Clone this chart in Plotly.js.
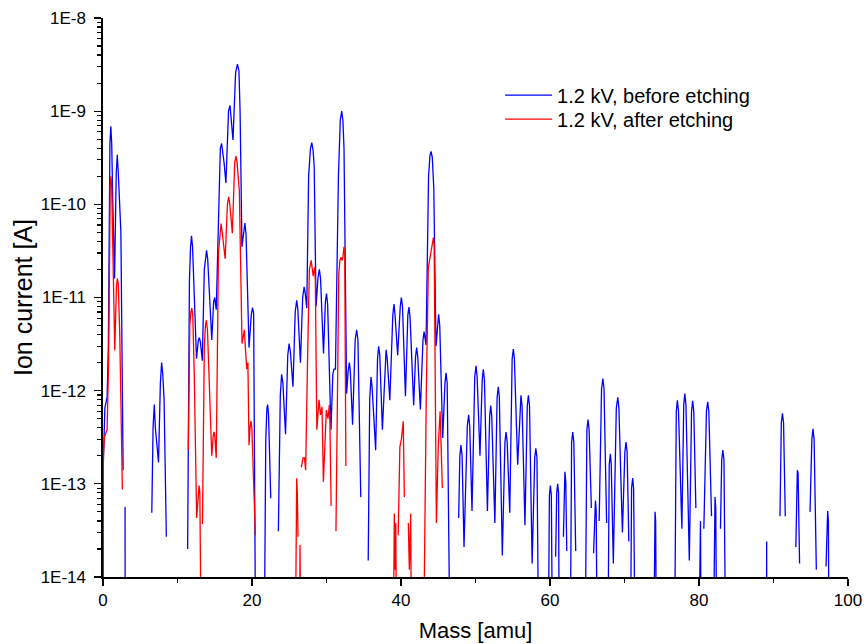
<!DOCTYPE html>
<html>
<head>
<meta charset="utf-8">
<script src="https://cdn.plot.ly/plotly-3.0.1.min.js"></script>
<style>
  html, body { margin: 0; padding: 0; background: #ffffff; }
  #chart { width: 865px; height: 644px; }
</style>
</head>
<body>
<div id="chart"></div>
<script>
// ---- data: [mass (amu), ion current (A)] ----
// [null, null] marks a break in the recorded line; 1e-15 lies below the axis floor.
const bluePoints = [
  [0.00,1e-15],[0.03,1.5e-13],[0.25,6.5e-13],[0.55,8.5e-13],[0.72,3e-12],[0.85,1e-10],[0.93,4.5e-10],[1.05,6.9e-10],[1.17,4.5e-10],[1.30,1.2e-10],[1.55,1.6e-11],[1.78,2.2e-10],[1.92,3.4e-10],[2.05,2.2e-10],[2.20,1.2e-10],[2.40,5e-11],[2.70,1.4e-13],[null,null],
  [2.93,5.6e-14],[2.96,5.6e-14],[2.98,1e-15],[null,null],
  [6.55,4.9e-14],[6.72,4e-13],[6.88,7.1e-13],[7.03,4e-13],[7.45,1.7e-13],[7.70,1.2e-12],[7.87,2e-12],[8.02,1.5e-12],[8.20,8e-13],[8.50,2.7e-14],[null,null],
  [11.36,2e-14],[11.60,1.5e-11],[11.75,3.5e-11],[11.88,4.6e-11],[12.02,3.5e-11],[12.20,1.2e-11],[12.55,2.2e-12],[12.80,3.5e-12],[12.93,3.7e-12],[13.08,3.3e-12],[13.33,2.1e-12],[13.60,2e-11],[13.75,2.8e-11],[13.90,3.2e-11],[14.05,2.6e-11],[14.25,1.2e-11],[14.60,3.5e-12],[14.85,9e-12],[14.99,1e-11],[15.20,7.4e-12],[15.55,1.5e-10],[15.75,4e-10],[15.92,4.5e-10],[16.10,3.5e-10],[16.25,2.8e-10],[16.50,1.7e-10],[16.85,1e-9],[17.05,1.15e-9],[17.22,8.5e-10],[17.45,4.9e-10],[17.80,2.6e-9],[18.05,3.2e-9],[18.25,2.7e-9],[18.40,1e-9],[18.65,3.5e-11],[18.90,5.5e-11],[19.05,6.3e-11],[19.20,4.8e-11],[19.60,2.9e-12],[19.90,6.5e-12],[20.07,7.8e-12],[20.22,6.8e-12],[20.50,1e-15],[null,null],
  [21.62,1e-15],[21.85,3e-13],[22.00,6.5e-13],[22.10,7.1e-13],[22.22,5.5e-13],[22.52,7e-14],[null,null],
  [23.54,3.1e-14],[23.80,9e-13],[23.98,1.5e-12],[24.15,1.2e-12],[24.50,3.4e-13],[24.80,2.4e-12],[24.98,3.2e-12],[25.15,2.6e-12],[25.50,1.1e-12],[25.80,7e-12],[26.00,9.3e-12],[26.15,7.5e-12],[26.50,2e-12],[26.80,1e-11],[27.00,1.3e-11],[27.15,1.1e-11],[27.35,7.7e-12],[27.60,2e-10],[27.85,4e-10],[28.02,4.6e-10],[28.20,3.8e-10],[28.35,2.5e-10],[28.60,8e-12],[28.85,1.6e-11],[29.04,2e-11],[29.20,1.6e-11],[29.60,2.5e-12],[29.85,9e-12],[30.00,1.1e-11],[30.15,8.5e-12],[30.60,3.8e-13],[30.85,1.5e-12],[31.00,1.7e-12],[31.20,1.7e-12],[31.60,2e-10],[31.85,8e-10],[32.04,1e-9],[32.20,8e-10],[32.35,4e-10],[32.70,9.3e-13],[32.90,1.6e-12],[33.07,2e-12],[33.20,1.6e-12],[33.50,4.3e-13],[33.85,3.5e-12],[34.05,4.5e-12],[34.22,3.5e-12],[34.60,7.2e-14],[null,null],
  [35.60,1.5e-14],[35.80,8e-13],[35.97,1.4e-12],[36.12,1.1e-12],[36.60,2.3e-13],[36.85,2.2e-12],[37.00,3e-12],[37.15,2.4e-12],[37.50,3.8e-13],[37.85,2e-12],[38.00,2.75e-12],[38.15,2.2e-12],[38.50,7.9e-13],[38.90,6.5e-12],[39.06,8.5e-12],[39.20,6.5e-12],[39.55,2.4e-12],[39.90,8e-12],[40.05,1e-11],[40.20,8e-12],[40.60,8.7e-13],[40.92,6.5e-12],[41.07,7.9e-12],[41.22,6e-12],[41.70,7e-13],[41.95,2.3e-12],[42.10,2.9e-12],[42.25,2.3e-12],[42.60,6.3e-13],[42.95,3.5e-12],[43.10,4.3e-12],[43.36,3.1e-12],[43.70,2e-10],[43.88,3.3e-10],[44.03,3.7e-10],[44.20,3.2e-10],[44.40,1.5e-10],[44.70,3e-12],[44.90,5.5e-12],[45.05,6.6e-12],[45.20,5e-12],[45.60,3.1e-13],[45.90,1.2e-12],[46.04,1.55e-12],[46.20,1.2e-12],[46.60,1e-15],[null,null],
  [47.74,4.3e-14],[47.90,2e-13],[48.05,2.6e-13],[48.20,2e-13],[48.46,2.1e-14],[48.90,4.2e-13],[49.08,5.5e-13],[49.22,4.2e-13],[49.53,5.1e-14],[49.90,1.4e-12],[50.07,1.85e-12],[50.22,1.4e-12],[50.60,2e-13],[50.90,1.3e-12],[51.05,1.7e-12],[51.20,1.3e-12],[51.60,5.1e-14],[51.90,5.3e-13],[52.04,6.9e-13],[52.18,5.3e-13],[52.60,3.8e-14],[52.90,8.5e-13],[53.06,1.1e-12],[53.20,8.5e-13],[53.60,1.7e-14],[53.95,2.8e-13],[54.10,3.6e-13],[54.25,2.8e-13],[54.60,4.9e-14],[54.92,2.2e-12],[55.08,2.8e-12],[55.22,2.2e-12],[55.66,1.6e-13],[55.95,6.9e-13],[56.10,8.9e-13],[56.25,6.9e-13],[56.64,3.6e-14],[56.95,6.9e-13],[57.10,8.9e-13],[57.25,6.9e-13],[57.60,1.4e-14],[57.95,1.9e-13],[58.10,2.4e-13],[58.25,1.9e-13],[58.50,1e-15],[null,null],
  [59.75,1e-15],[59.92,7.5e-14],[60.05,9.6e-14],[60.18,7.5e-14],[60.35,1e-15],[null,null],
  [60.76,1.65e-14],[60.90,8e-14],[61.03,1e-13],[61.15,8e-14],[61.25,1e-15],[null,null],
  [61.80,2.7e-14],[61.90,1.05e-13],[62.00,1.35e-13],[62.12,1.05e-13],[62.25,1.9e-14],[null,null],
  [62.70,1e-15],[62.90,2.8e-13],[63.05,3.6e-13],[63.20,2.8e-13],[63.45,1.9e-14],[null,null],
  [64.70,1e-15],[64.95,3.8e-13],[65.10,4.9e-13],[65.25,3.8e-13],[65.55,5.5e-14],[null,null],
  [65.85,1.8e-14],[66.00,5.2e-14],[66.10,6.6e-14],[66.20,5.2e-14],[66.35,1e-15],[null,null],
  [66.60,4e-14],[66.92,1.05e-12],[67.10,1.35e-12],[67.25,1.05e-12],[67.60,3.8e-14],[null,null],
  [67.75,1e-15],[67.95,1.6e-13],[68.10,2.1e-13],[68.22,1.6e-13],[68.50,1.4e-14],[68.90,6.5e-13],[69.10,8.5e-13],[69.25,6.5e-13],[69.72,3e-14],[70.05,2.2e-13],[70.20,2.8e-13],[70.35,2.2e-13],[70.58,2.4e-14],[null,null],
  [70.78,1e-15],[70.95,9e-14],[71.10,1.15e-13],[71.22,9e-14],[71.45,1e-15],[null,null],
  [73.90,1e-15],[74.02,4e-14],[74.10,5e-14],[74.18,4e-14],[74.30,1e-15],[null,null],
  [76.70,1e-15],[76.95,6e-13],[77.10,7.9e-13],[77.25,6e-13],[77.70,3.3e-14],[77.95,7e-13],[78.10,9.3e-13],[78.25,7e-13],[78.70,1.5e-14],[79.00,6e-13],[79.15,7.8e-13],[79.30,6e-13],[79.58,5.5e-14],[null,null],
  [79.95,1e-15],[80.10,3e-14],[80.20,4e-14],[80.30,1e-15],[null,null],
  [80.65,3.3e-14],[81.00,6e-13],[81.17,7.6e-13],[81.32,6e-13],[81.68,4.5e-14],[null,null],
  [81.90,1e-15],[82.05,5.5e-14],[82.15,7.2e-14],[82.25,5.5e-14],[82.40,1e-15],[null,null],
  [82.88,3.3e-14],[83.05,1.8e-13],[83.20,2.3e-13],[83.35,1.8e-13],[83.60,1e-15],[null,null],
  [89.06,1e-15],[89.08,2.4e-14],[89.10,1e-15],[null,null],
  [90.87,4.5e-14],[91.05,4.5e-13],[91.20,5.7e-13],[91.35,4.5e-13],[91.58,4.5e-14],[null,null],
  [93.00,2.1e-14],[93.12,1.2e-13],[93.20,1.4e-13],[93.30,1.3e-13],[93.50,1.4e-14],[null,null],
  [94.90,5e-14],[95.15,3e-13],[95.30,3.9e-13],[95.45,3e-13],[95.75,1.2e-14],[null,null],
  [97.05,1.3e-14],[97.18,4e-14],[97.27,5.1e-14],[97.37,4e-14],[97.45,1e-15]
];

const redPoints = [
  [0.00,1e-15],[0.05,2e-13],[0.20,3.2e-13],[0.55,3.8e-13],[0.75,2e-12],[0.88,5e-11],[0.97,1.6e-10],[1.07,2e-10],[1.17,1.5e-10],[1.30,4e-11],[1.58,2.7e-12],[1.80,1.3e-11],[1.92,1.6e-11],[2.05,1.4e-11],[2.25,4e-12],[2.60,8.7e-14],[null,null],
  [11.45,2.3e-13],[11.65,5e-12],[11.80,7e-12],[11.92,7.7e-12],[12.05,6.5e-12],[12.25,1.5e-12],[12.57,4.3e-14],[12.78,8.5e-14],[12.90,9.6e-14],[13.00,8e-14],[13.20,1e-15],[null,null],
  [13.35,3.7e-14],[13.60,3e-12],[13.75,5e-12],[13.88,5.7e-12],[14.02,4.5e-12],[14.20,1.5e-12],[14.60,2e-13],[14.80,3.3e-13],[14.90,3.6e-13],[15.00,3.3e-13],[15.20,1.9e-13],[15.50,3e-11],[15.70,5.5e-11],[15.84,6.2e-11],[16.00,5e-11],[16.40,2.6e-11],[16.70,1e-10],[16.87,1.2e-10],[17.02,1e-10],[17.36,4.9e-11],[17.68,2.8e-10],[17.85,3.3e-10],[18.00,2.8e-10],[18.30,1.4e-10],[18.66,3.2e-12],[18.85,4.2e-12],[18.97,4.5e-12],[19.10,3e-12],[19.30,1.7e-12],[19.45,2e-12],[19.60,2.6e-13],[19.75,4.2e-13],[19.87,4.7e-13],[19.98,4e-13],[20.18,1.45e-13],[20.45,2.8e-14],[null,null],
  [25.80,1e-15],[25.92,8e-14],[26.00,1.15e-13],[26.08,8e-14],[26.18,2.7e-14],[null,null],
  [26.35,1e-15],[26.45,2.2e-14],[26.55,1e-15],[null,null],
  [26.62,1.5e-13],[26.85,1.9e-13],[27.05,1.9e-13],[27.20,1.4e-13],[27.45,2e-12],[27.70,2e-11],[27.95,2.5e-11],[28.20,1.7e-11],[28.40,2.1e-11],[28.50,1.5e-11],[28.70,3.8e-13],[28.90,7e-13],[29.00,8e-13],[29.20,5.5e-13],[29.40,6.7e-13],[29.58,1.05e-13],[29.85,5e-13],[29.98,6.2e-13],[30.20,5e-13],[30.38,7e-13],[30.45,5e-13],[30.62,5.8e-14],[null,null],
  [31.27,3.1e-14],[31.50,2e-12],[31.65,1.8e-11],[31.80,2.5e-11],[31.95,2.7e-11],[32.10,2.5e-11],[32.20,2.7e-11],[32.35,3.5e-11],[32.45,3e-11],[32.60,1.55e-13],[null,null],
  [38.95,1e-15],[39.10,4.8e-14],[39.18,1.2e-14],[39.30,3.8e-14],[39.42,1e-15],[null,null],
  [39.62,2.8e-14],[39.85,2.5e-13],[40.05,3e-13],[40.30,4.7e-13],[40.45,7.2e-14],[null,null],
  [40.98,3.8e-14],[41.12,1.2e-14],[41.30,4.8e-14],[41.36,2.3e-14],[41.42,1e-15],[null,null],
  [43.00,1e-15],[43.20,1e-13],[43.40,1e-12],[43.67,2.1e-11],[44.10,3.2e-11],[44.35,4.4e-11],[44.45,3.6e-11],[44.75,3.8e-14],[45.00,2.5e-13],[45.25,6e-13],[45.55,9e-14]
];

const seriesNames = ['1.2 kV, before etching', '1.2 kV, after etching'];
const xTickVals = [0, 20, 40, 60, 80, 100];
const yTickVals = [1e-14, 1e-13, 1e-12, 1e-11, 1e-10, 1e-9, 1e-8];
const yTickText = ['1E-14', '1E-13', '1E-12', '1E-11', '1E-10', '1E-9', '1E-8'];

// minor log ticks (2..9 within each decade)
const yMinor = [];
for (let d = -14; d < -8; d++) {
  for (let k = 2; k <= 9; k++) yMinor.push(k * Math.pow(10, d));
}

const FONT = 'Liberation Sans, Arial, Helvetica, sans-serif';

const traces = [
  {
    x: bluePoints.map(p => p[0]),
    y: bluePoints.map(p => p[1]),
    name: seriesNames[0], legend: 'legend',
    type: 'scatter', mode: 'lines',
    line: { color: '#0000ff', width: 1.3 },
    connectgaps: false
  },
  {
    x: redPoints.map(p => p[0]),
    y: redPoints.map(p => p[1]),
    name: seriesNames[1], legend: 'legend2',
    type: 'scatter', mode: 'lines',
    line: { color: '#ff0000', width: 1.3 },
    connectgaps: false
  }
];

const legendStyle = {
  xanchor: 'left', yanchor: 'top',
  bgcolor: 'rgba(0,0,0,0)', borderwidth: 0,
  font: { family: FONT, size: 20, color: '#000000' },
  itemwidth: 47
};

const layout = {
  width: 865, height: 644,
  margin: { l: 103, r: 17, t: 18, b: 67, pad: 0 },
  paper_bgcolor: '#ffffff', plot_bgcolor: '#ffffff',
  font: { family: FONT, color: '#000000', size: 17 },
  showlegend: true,
  legend: Object.assign({ x: 0.533, y: 0.897 }, legendStyle),
  legend2: Object.assign({ x: 0.533, y: 0.854 }, legendStyle),
  xaxis: {
    range: [0, 100],
    tickmode: 'array', tickvals: xTickVals,
    ticks: 'outside', ticklen: 7, tickwidth: 1.2, tickcolor: '#000',
    minor: { dtick: 10, ticks: 'outside', ticklen: 4, tickwidth: 1.2, tickcolor: '#000' },
    showline: true, linecolor: '#000', linewidth: 1.6,
    showgrid: false, zeroline: false,
    tickfont: { family: FONT, size: 17 },
    title: { text: 'Mass [amu]', font: { family: FONT, size: 22 }, standoff: 13 }
  },
  yaxis: {
    type: 'log', range: [-14, -8],
    tickmode: 'array', tickvals: yTickVals, ticktext: yTickText,
    ticks: 'outside', ticklen: 7, tickwidth: 1.2, tickcolor: '#000',
    ticklabelstandoff: 5,
    minor: { tickmode: 'array', tickvals: yMinor, ticks: 'outside', ticklen: 4, tickwidth: 1.2, tickcolor: '#000' },
    showline: true, linecolor: '#000', linewidth: 1.6,
    showgrid: false, zeroline: false,
    tickfont: { family: FONT, size: 17 },
    title: { text: 'Ion current [A]', font: { family: FONT, size: 25 }, standoff: 1 }
  }
};

Plotly.newPlot('chart', traces, layout, { displayModeBar: false, staticPlot: true });
</script>
</body>
</html>
